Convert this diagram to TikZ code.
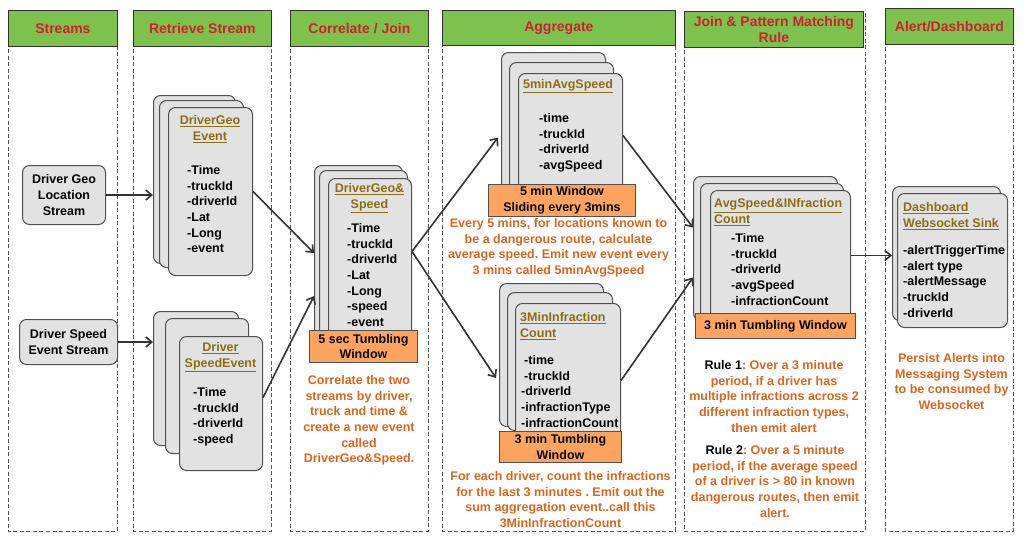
\documentclass[tikz,border=0pt]{standalone}
\usepackage{fontspec}
\setmainfont{Liberation Sans}
\usetikzlibrary{arrows.meta,calc}
\frenchspacing
\definecolor{hdrgreen}{HTML}{7DC24D}
\definecolor{hdrred}{HTML}{D0202E}
\definecolor{lanegray}{HTML}{555555}
\definecolor{cardfill}{HTML}{E2E2E2}
\definecolor{cardedge}{HTML}{505050}
\definecolor{winorange}{HTML}{FFA45E}
\definecolor{ttlgold}{HTML}{8C6D12}
\definecolor{descorange}{HTML}{D9661E}
\definecolor{arrowgray}{HTML}{333333}
\newcommand\mybody{\fontsize{12.5}{15.6}\selectfont\bfseries}
\newcommand\myhead{\fontsize{14}{16.5}\selectfont\bfseries}
\tikzset{
  hdr/.style={draw=black!80, fill=hdrgreen, text=hdrred, font=\myhead, align=center, anchor=north west, inner sep=0, line width=0.8pt},
  lane/.style={draw=lanegray, dash pattern=on 4pt off 2.5pt, line width=1pt},
  card/.style={draw=cardedge, fill=cardfill, rounded corners=7pt, line width=1pt, anchor=north west, inner sep=0},
  win/.style={draw=cardedge, fill=winorange, anchor=north west, inner sep=0, align=center, font=\mybody, line width=0.9pt},
  ttl/.style={text=ttlgold, font=\mybody, inner sep=0},
  items/.style={font=\mybody, inner sep=0, align=left, anchor=north west},
  desc/.style={text=descorange, font=\mybody, inner sep=0, align=center, anchor=north},
  src/.style={draw=cardedge, fill=cardfill, rounded corners=7pt, line width=1pt, anchor=north west, inner sep=0, align=center, font=\mybody},
  flow/.style={draw=arrowgray, line width=1.6pt, -{Straight Barb[length=6pt,width=10pt]}},
}
\begin{document}
\begin{tikzpicture}[x=1pt,y=-1pt]
\useasboundingbox (0,0) rectangle (1024,544);
\fill[white] (0,0) rectangle (1024,544);
% lanes
\draw[lane] (8,10) rectangle (117,531);
\draw[lane] (133,10) rectangle (271,531);
\draw[lane] (290,10) rectangle (428,531);
\draw[lane] (442,10) rectangle (675,531);
\draw[lane] (684,11) rectangle (865,531);
\draw[lane] (885,8) rectangle (1013,531);
% headers
\node[hdr, minimum width=109pt, minimum height=36pt] (h1) at (8,10) {Streams};
\node[hdr, minimum width=138pt, minimum height=36pt] (h2) at (133,10) {Retrieve Stream};
\node[hdr, minimum width=138pt, minimum height=36pt] (h3) at (290,10) {Correlate / Join};
\node[hdr, minimum width=233pt, minimum height=35pt] (h4) at (442,10) {Aggregate};
\node[hdr, minimum width=179pt, minimum height=36pt] (h5) at (684,11) {Join \& Pattern Matching\\Rule};
\node[hdr, minimum width=128pt, minimum height=36pt] (h6) at (885,8) {Alert/Dashboard};
% sources
\node[src, minimum width=83pt, minimum height=59pt] (geo) at (22,165) {Driver Geo\\Location\\Stream};
\node[src, minimum width=98pt, minimum height=45pt] (spd) at (19,319) {Driver Speed\\Event Stream};
% DriverGeo Event
\node[card, minimum width=82pt, minimum height=168pt] (dgA) at (153,95) {};
\node[card, minimum width=84pt, minimum height=167pt] (dgB) at (159,100) {};
\node[card, minimum width=84pt, minimum height=168pt] (dgC) at (168,107) {};
\node[ttl, align=center] (dgT) at (210,129) {\underline{DriverGeo}\\\underline{Event}};
\node[items] (dgI) at (187,165.5) {-Time\\-truckId\\-driverId\\-Lat\\-Long\\-event};
% Driver SpeedEvent
\node[card, minimum width=85pt, minimum height=134pt] (spA) at (153,311) {};
\node[card, minimum width=83pt, minimum height=135pt] (spB) at (165,318) {};
\node[card, minimum width=83pt, minimum height=134pt] (spC) at (179,336) {};
\node[ttl, align=center] (spT) at (220.5,357) {\underline{Driver}\\\underline{SpeedEvent}};
\node[items] (spI) at (193,387.5) {-Time\\-truckId\\-driverId\\-speed};
% DriverGeo&Speed
\node[card, minimum width=88pt, minimum height=175pt] (dsA) at (314,165) {};
\node[card, minimum width=88pt, minimum height=170pt] (dsB) at (319,170) {};
\node[card, minimum width=83pt, minimum height=162pt] (dsC) at (328,178) {};
\node[ttl, align=center] (dsT) at (369.5,198) {\underline{DriverGeo\&}\\\underline{Speed}};
\node[items] (dsI) at (347,223.5) {-Time\\-truckId\\-driverId\\-Lat\\-Long\\-speed\\-event};
\node[win, minimum width=108pt, minimum height=32pt] (dsW) at (309,330) {5 sec Tumbling\\Window};
\node[desc] (dsD) at (359,375.5) {Correlate the two\\streams by driver,\\truck and time \&\\create a new event\\called\\DriverGeo\&Speed.};
% 5minAvgSpeed
\node[card, minimum width=104pt, minimum height=138pt] (mA) at (501,52) {};
\node[card, minimum width=104pt, minimum height=128pt] (mB) at (509,62) {};
\node[card, minimum width=104pt, minimum height=117pt] (mC) at (518,73) {};
\node[ttl, align=center] (mT) at (568,86) {\underline{5minAvgSpeed}};
\node[items] (mI) at (539,113.5) {-time\\-truckId\\-driverId\\-avgSpeed};
\node[win, minimum width=147pt, minimum height=32pt] (mW) at (488,184) {5 min Window\\Sliding every 3mins};
\node[desc] (mD) at (558.5,218.5) {Every 5 mins, for locations known to\\be a dangerous route, calculate\\average speed. Emit new event every\\3 mins called 5minAvgSpeed};
% 3MinInfractionCount
\node[card, minimum width=104pt, minimum height=143pt] (iA) at (499,283) {};
\node[card, minimum width=105pt, minimum height=138pt] (iB) at (507,292) {};
\node[card, minimum width=105pt, minimum height=137pt] (iC) at (515,303) {};
\node[ttl, align=left, anchor=north west] (iT) at (520,312.5) {\underline{3MinInfraction}\\\underline{Count}};
\node[items] (iI) at (521,355.5) {\hspace*{3pt}-time\\\hspace*{3pt}-truckId\\-driverId\\-infractionType\\-infractionCount};
\node[win, minimum width=122pt, minimum height=31pt] (iW) at (499,431) {3 min Tumbling\\Window};
\node[desc] (iD) at (560.5,471.5) {For each driver, count the infractions\\for the last 3 minutes . Emit out the\\sum aggregation event..call this\\3MinInfractionCount};
% AvgSpeed&INfraction Count
\node[card, minimum width=144pt, minimum height=144pt] (aA) at (693,176) {};
\node[card, minimum width=143pt, minimum height=137pt] (aB) at (700,183) {};
\node[card, minimum width=140pt, minimum height=130pt] (aC) at (710,190) {};
\node[ttl, align=left, anchor=north west] (aT) at (714,198.5) {\underline{AvgSpeed\&INfraction}\\\underline{Count}};
\node[items] (aI) at (731,233.5) {-Time\\-truckId\\-driverId\\-avgSpeed\\-infractionCount};
\node[win, minimum width=160pt, minimum height=25pt] (aW) at (695,313) {3 min Tumbling Window};
\node[desc] (r1) at (774,360.5) {\textcolor{black}{Rule 1}: Over a 3 minute\\period, if a driver has\\multiple infractions across 2\\different infraction types,\\then emit alert};
\node[desc] (r2) at (775,445.5) {\textcolor{black}{Rule 2}: Over a 5 minute\\period, if the average speed\\of a driver is > 80 in known\\dangerous routes, then emit\\alert.};
% Dashboard
\node[card, minimum width=108pt, minimum height=134pt] (dA) at (892,186) {};
\node[card, minimum width=110pt, minimum height=134pt] (dB) at (897,193) {};
\node[ttl, align=left, anchor=north west] (dT) at (903,202.5) {\underline{Dashboard}\\\underline{Websocket Sink}};
\node[items] (dI) at (903,245.5) {-alertTriggerTime\\-alert type\\-alertMessage\\-truckId\\-driverId};
\node[desc] (dD) at (951.5,353.5) {Persist Alerts into\\Messaging System\\to be consumed by\\Websocket};
% connectors
\draw[flow] (geo.east) -- (dgA.west |- geo.east);
\draw[flow] (spd.east) -- (spA.west |- spd.east);
\draw[flow] (dgC.east) -- (dsA.west);
\draw[flow] ($(spC.east)+(0,-6)$) -- ($(dsA.west)+(0,43)$);
\draw[flow] ($(dsC.east)+(0,-8)$) -- ($(mA.west)+(-3,16)$);
\draw[flow] ($(dsC.east)+(0,-8)$) -- ($(iA.west)+(-3,23)$);
\draw[flow] ($(mC.east)+(0,3.5)$) -- ($(aA.west)+(0,-21)$);
\draw[flow] ($(iC.east)+(0,8.5)$) -- ($(aA.west)+(0,29)$);
\draw[flow] (aC.east) -- (dA.west |- aC.east);
\end{tikzpicture}
\end{document}
